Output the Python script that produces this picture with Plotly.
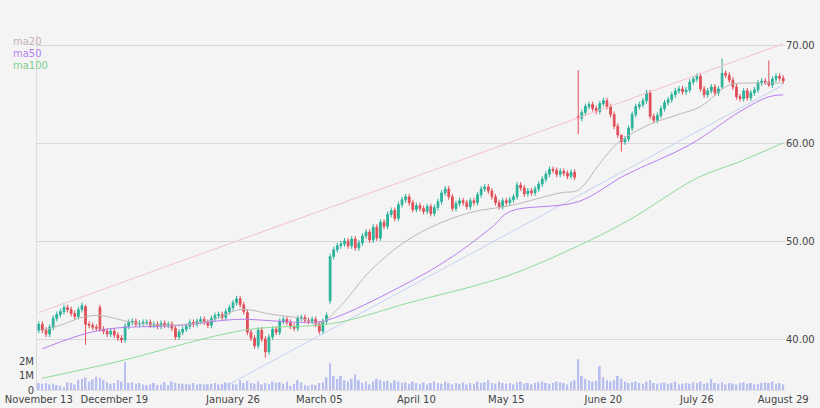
import plotly.graph_objects as go

close = [41.6,41.0,40.6,41.3,42.2,42.6,42.9,43.3,43.1,42.7,
 42.4,43.1,43.5,41.6,41.5,41.3,41.2,41.1,40.9,40.6,
 40.9,40.5,40.2,40.0,41.4,41.8,41.9,41.6,41.7,41.8,
 41.8,41.5,41.6,41.4,41.7,41.5,41.6,41.2,40.3,40.8,
 41.1,41.4,41.8,41.6,41.9,42.1,41.8,41.5,42.2,42.5,
 42.6,42.3,42.9,43.3,43.8,44.2,43.6,42.9,40.8,40.2,
 39.4,41.0,40.1,38.8,40.3,41.1,40.8,41.9,42.1,41.8,
 41.4,41.2,42.2,42.3,42.0,41.9,42.1,41.6,40.9,41.9,
 42.5,48.5,49.2,49.6,49.8,50.1,49.6,50.3,49.4,49.9,
 50.6,51.0,50.2,51.5,50.4,52.0,51.6,52.8,53.2,52.4,
 53.8,54.3,54.6,54.0,53.3,53.7,53.4,53.1,53.6,52.9,
 53.5,54.1,55.0,55.4,54.6,53.4,53.9,54.2,54.0,53.6,
 54.2,54.0,54.8,55.4,55.6,55.2,54.6,54.0,53.6,54.2,
 54.0,54.3,54.6,55.8,55.5,54.9,55.2,55.0,55.4,55.9,
 56.4,56.9,57.4,57.3,56.9,57.2,57.0,56.7,57.1,56.6,
 62.6,63.2,63.8,64.0,63.6,63.3,64.1,64.4,63.8,63.0,
 61.8,60.9,60.2,60.5,61.6,63.0,63.8,64.0,64.4,65.2,
 62.8,62.4,62.9,63.6,64.2,64.5,65.0,65.4,65.6,65.3,
 65.5,66.3,66.6,66.9,65.6,65.0,65.4,65.8,65.2,65.6,
 67.2,67.0,66.5,65.8,64.8,64.6,65.4,64.7,65.2,65.5,
 66.2,66.4,66.3,66.0,66.6,66.9,66.7,66.4]
open_overrides = {0: 41.0, 13: 43.4, 17: 43.3, 58: 42.8, 81: 44.0, 150: 62.8, 170: 65.2, 190: 65.8}
wick_overrides = {13: (43.6, 39.5), 63: (40.4, 38.2), 150: (67.5, 61.0), 162: (60.9, 59.2), 190: (68.7, 65.6), 203: (68.5, 65.8)}
volume = [0.5,0.45,0.5,0.4,0.45,0.35,0.3,0.2,0.55,0.5,
 0.4,0.7,0.8,0.9,0.6,0.75,0.95,0.85,0.7,0.55,
 0.45,0.5,0.7,0.6,2.0,0.5,0.55,0.45,0.5,0.4,
 0.35,0.4,0.5,0.35,0.4,0.55,0.35,0.6,0.5,0.45,
 0.45,0.45,0.4,0.5,0.4,0.45,0.4,0.4,0.45,0.5,
 0.4,0.45,0.55,0.5,0.45,0.4,0.7,0.5,0.65,0.5,
 0.45,0.6,0.4,0.5,0.45,0.6,0.5,0.55,0.45,0.6,
 0.3,0.45,0.7,0.55,0.35,0.3,0.4,0.35,0.5,0.55,
 0.9,1.9,1.0,0.8,1.0,0.7,0.6,0.8,1.1,0.7,
 0.5,0.6,0.4,0.6,0.8,0.7,0.6,0.65,0.5,0.7,
 0.6,0.5,0.55,0.45,0.6,0.5,0.45,0.55,0.4,0.5,
 0.6,0.5,0.45,0.6,0.5,0.4,0.5,0.45,0.55,0.4,
 0.5,0.45,0.6,0.5,0.55,0.7,0.5,0.45,0.6,0.5,
 0.45,0.5,0.4,0.55,0.6,0.45,0.5,0.4,0.5,0.55,
 0.6,0.5,0.45,0.5,0.6,0.55,0.5,0.4,0.6,0.7,
 2.2,1.0,0.8,0.7,0.6,0.65,1.7,0.9,0.7,0.6,
 0.7,1.0,0.8,0.6,0.5,0.55,0.6,0.5,0.45,0.6,
 0.7,0.5,0.45,0.5,0.55,0.45,0.5,0.6,0.4,0.45,
 0.5,0.45,0.55,0.5,0.6,0.45,0.5,0.8,0.5,0.45,
 0.55,0.4,0.5,0.45,0.4,0.5,0.55,0.45,0.5,0.4,
 0.45,0.5,0.55,0.5,0.6,0.45,0.5,0.4]
ma20_x = [1,6,12,17,26,37,48,56,65,73,78,84,92,101,109,120,131,145,150,156,161,170,178,184,192,197,203,207]
ma20_y = [41.0,41.5,42.3,42.5,41.8,41.5,42.0,43.1,42.6,42.2,41.7,43.5,47.0,49.8,51.5,53.0,53.7,55.0,55.3,58.0,60.1,62.0,63.0,63.8,66.0,66.2,66.2,66.2]
ma50_x = [1,17,40,55,73,80,103,115,126,131,150,163,181,195,203,207]
ma50_y = [39.1,41.0,41.5,42.1,41.8,42.0,45.9,48.5,51.5,53.1,54.1,56.8,59.9,63.3,64.8,65.0]
ma100_x = [1,22,57,82,103,130,150,164,183,195,207]
ma100_y = [36.1,37.8,41.0,41.7,43.8,46.5,49.6,52.2,56.5,58.2,60.1]
trend_up_x, trend_up_y = [0, 207], [42.8, 70.2]
trend_lo_x, trend_lo_y = [50, 207], [34.9, 66.0]
tick_idx = [0, 21, 54, 78, 105, 130, 157, 183, 207]
tick_lab = ["November 13", "December 19", "January 26", "March 05", "April 10", "May 15", "June 20", "July 26", "August 29"]

n = len(close)
opens, highs, lows = [], [], []
for i in range(n):
    o = open_overrides.get(i, close[i-1] if i > 0 else close[0])
    opens.append(o)
    h, l = wick_overrides.get(i, (max(o, close[i]) + 0.3, min(o, close[i]) - 0.3))
    highs.append(h); lows.append(l)
x = list(range(n))

fig = go.Figure()
fig.add_trace(go.Bar(x=x, y=[v*1e6 for v in volume], yaxis="y2", marker_color="#b8bff0", marker_line_width=0, width=0.5))
fig.add_trace(go.Scatter(x=trend_up_x, y=trend_up_y, mode="lines", line=dict(color="#f5c0cc", width=1)))
fig.add_trace(go.Scatter(x=trend_lo_x, y=trend_lo_y, mode="lines", line=dict(color="#c3d3f2", width=1)))
fig.add_trace(go.Scatter(x=ma100_x, y=ma100_y, mode="lines", line=dict(color="#8fdc98", width=1, shape="spline")))
fig.add_trace(go.Scatter(x=ma50_x, y=ma50_y, mode="lines", line=dict(color="#b87ef0", width=1, shape="spline")))
fig.add_trace(go.Scatter(x=ma20_x, y=ma20_y, mode="lines", line=dict(color="#bdb8b8", width=1, shape="spline")))
fig.add_trace(go.Candlestick(x=x, open=opens, high=highs, low=lows, close=close,
    increasing=dict(line=dict(color="#2bb39a", width=1), fillcolor="#2bb39a"),
    decreasing=dict(line=dict(color="#e0505a", width=1), fillcolor="#e0505a"),
    whiskerwidth=0))
fig.update_layout(width=820, height=408, margin=dict(l=37, r=35, t=34, b=18, autoexpand=False),
    paper_bgcolor="#f4f4f4", plot_bgcolor="#f4f4f4", showlegend=False,
    font=dict(family="DejaVu Sans", size=10, color="#444"),
    xaxis=dict(range=[-0.5, 207.5], tickvals=tick_idx, ticktext=tick_lab, showgrid=False, automargin=False,
               rangeslider=dict(visible=False), showline=True, linecolor="#ddd", mirror=False, ticks="", zeroline=False),
    yaxis=dict(range=[34.9, 71.2], side="right", tickvals=[40, 50, 60, 70], tickformat=".2f", automargin=False,
               gridcolor="#d8d8d8", zeroline=False, ticks=""),
    yaxis2=dict(range=[0, 25.4e6], overlaying="y", side="left", tickvals=[0, 1e6, 2e6], ticktext=["0", "1M", "2M"],
                showgrid=False, zeroline=False, showline=True, linecolor="#ddd", automargin=False),
    bargap=0.4)
for i, (t, c) in enumerate([("ma20", "#c8b0bb"), ("ma50", "#b87ef0"), ("ma100", "#7fd08f")]):
    fig.add_annotation(text=t, xref="paper", yref="paper", x=-0.035, xanchor="left", y=1.0 - i*0.034, yanchor="top",
                       showarrow=False, font=dict(size=10, color=c))
fig.write_html("out.html", config={"displayModeBar": False},
               post_script="document.body.style.margin='0';document.body.style.overflow='hidden';")
